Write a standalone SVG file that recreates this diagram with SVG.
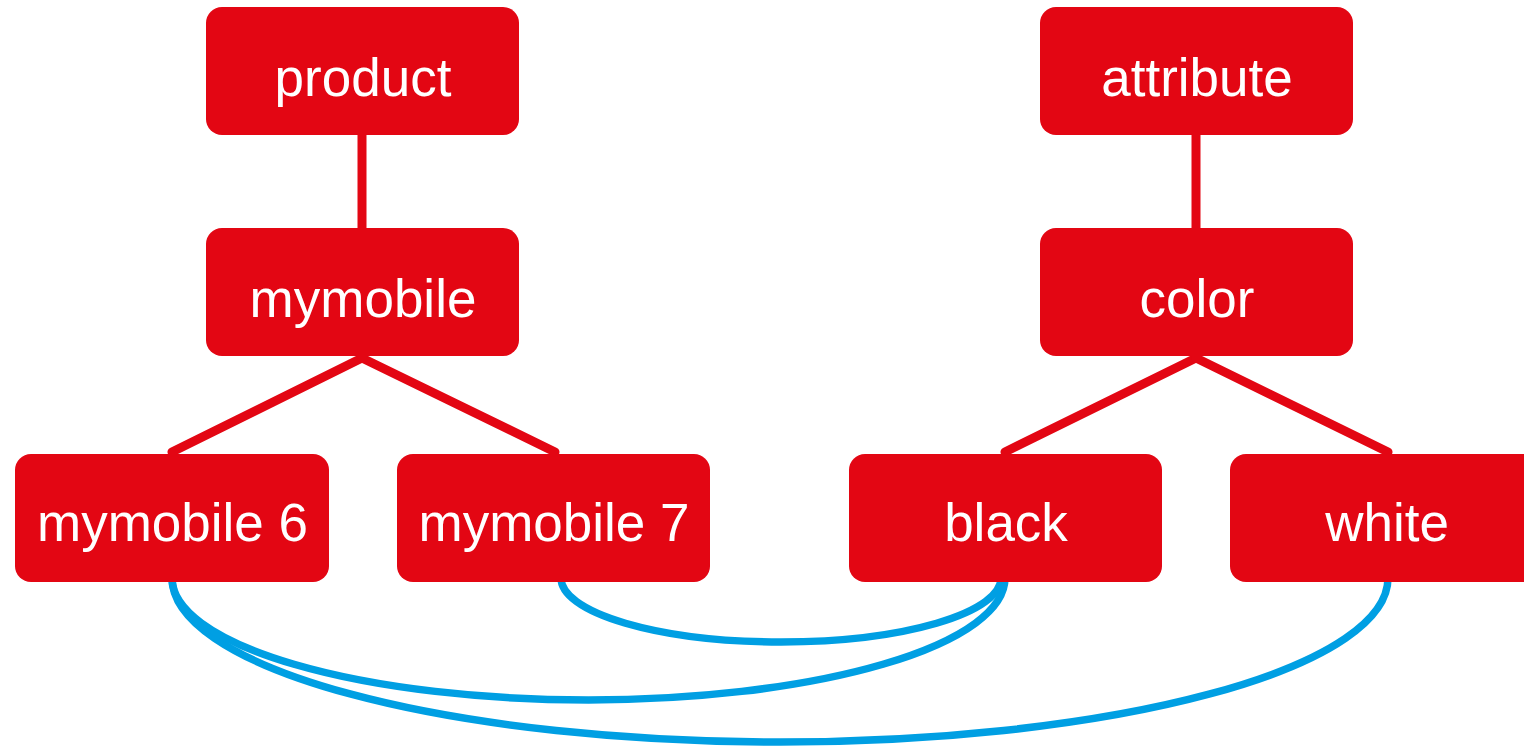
<svg xmlns="http://www.w3.org/2000/svg" width="1524" height="747" viewBox="0 0 1524 747">
<style>
.box{fill:#E30613}
.lbl{font-family:"Liberation Sans",Arial,sans-serif;font-size:53px;fill:#fff;text-anchor:middle}
.tree{stroke:#E30613;stroke-width:9;fill:none;stroke-linecap:round}
.link{stroke:#009FE3;stroke-width:7.5;fill:none}
</style>
<rect width="1524" height="747" fill="#fff"/>
<g id="connectors">
<line class="tree" x1="362" y1="130" x2="362" y2="232"/>
<line class="tree" x1="1196" y1="130" x2="1196" y2="232"/>
<line class="tree" x1="362" y1="358" x2="172" y2="452"/>
<line class="tree" x1="362" y1="358" x2="555" y2="452"/>
<line class="tree" x1="1196" y1="358" x2="1005" y2="452"/>
<line class="tree" x1="1196" y1="358" x2="1388" y2="452"/>
<path class="link" d="M172,578 A608,164 0 0 0 1388,578"/>
<path class="link" d="M172,578 A416.5,122 0 0 0 1005,578"/>
<path class="link" d="M561,578 A220,64 0 0 0 1001,578"/>
</g>
<g id="product"><rect class="box" x="206" y="7" width="313" height="128" rx="16"/><text class="lbl" x="363" y="96">product</text></g>
<g id="attribute"><rect class="box" x="1040" y="7" width="313" height="128" rx="16"/><text class="lbl" x="1197" y="96">attribute</text></g>
<g id="mymobile"><rect class="box" x="206" y="228" width="313" height="128" rx="16"/><text class="lbl" x="363" y="317">mymobile</text></g>
<g id="color"><rect class="box" x="1040" y="228" width="313" height="128" rx="16"/><text class="lbl" x="1197" y="317">color</text></g>
<g id="mymobile6"><rect class="box" x="15" y="454" width="314" height="128" rx="16"/><text class="lbl" x="172.5" y="541">mymobile 6</text></g>
<g id="mymobile7"><rect class="box" x="397" y="454" width="313" height="128" rx="16"/><text class="lbl" x="554" y="541">mymobile 7</text></g>
<g id="black"><rect class="box" x="849" y="454" width="313" height="128" rx="16"/><text class="lbl" x="1006" y="541">black</text></g>
<g id="white"><rect class="box" x="1230" y="454" width="320" height="128" rx="16"/><text class="lbl" x="1387" y="541">white</text></g>
</svg>
